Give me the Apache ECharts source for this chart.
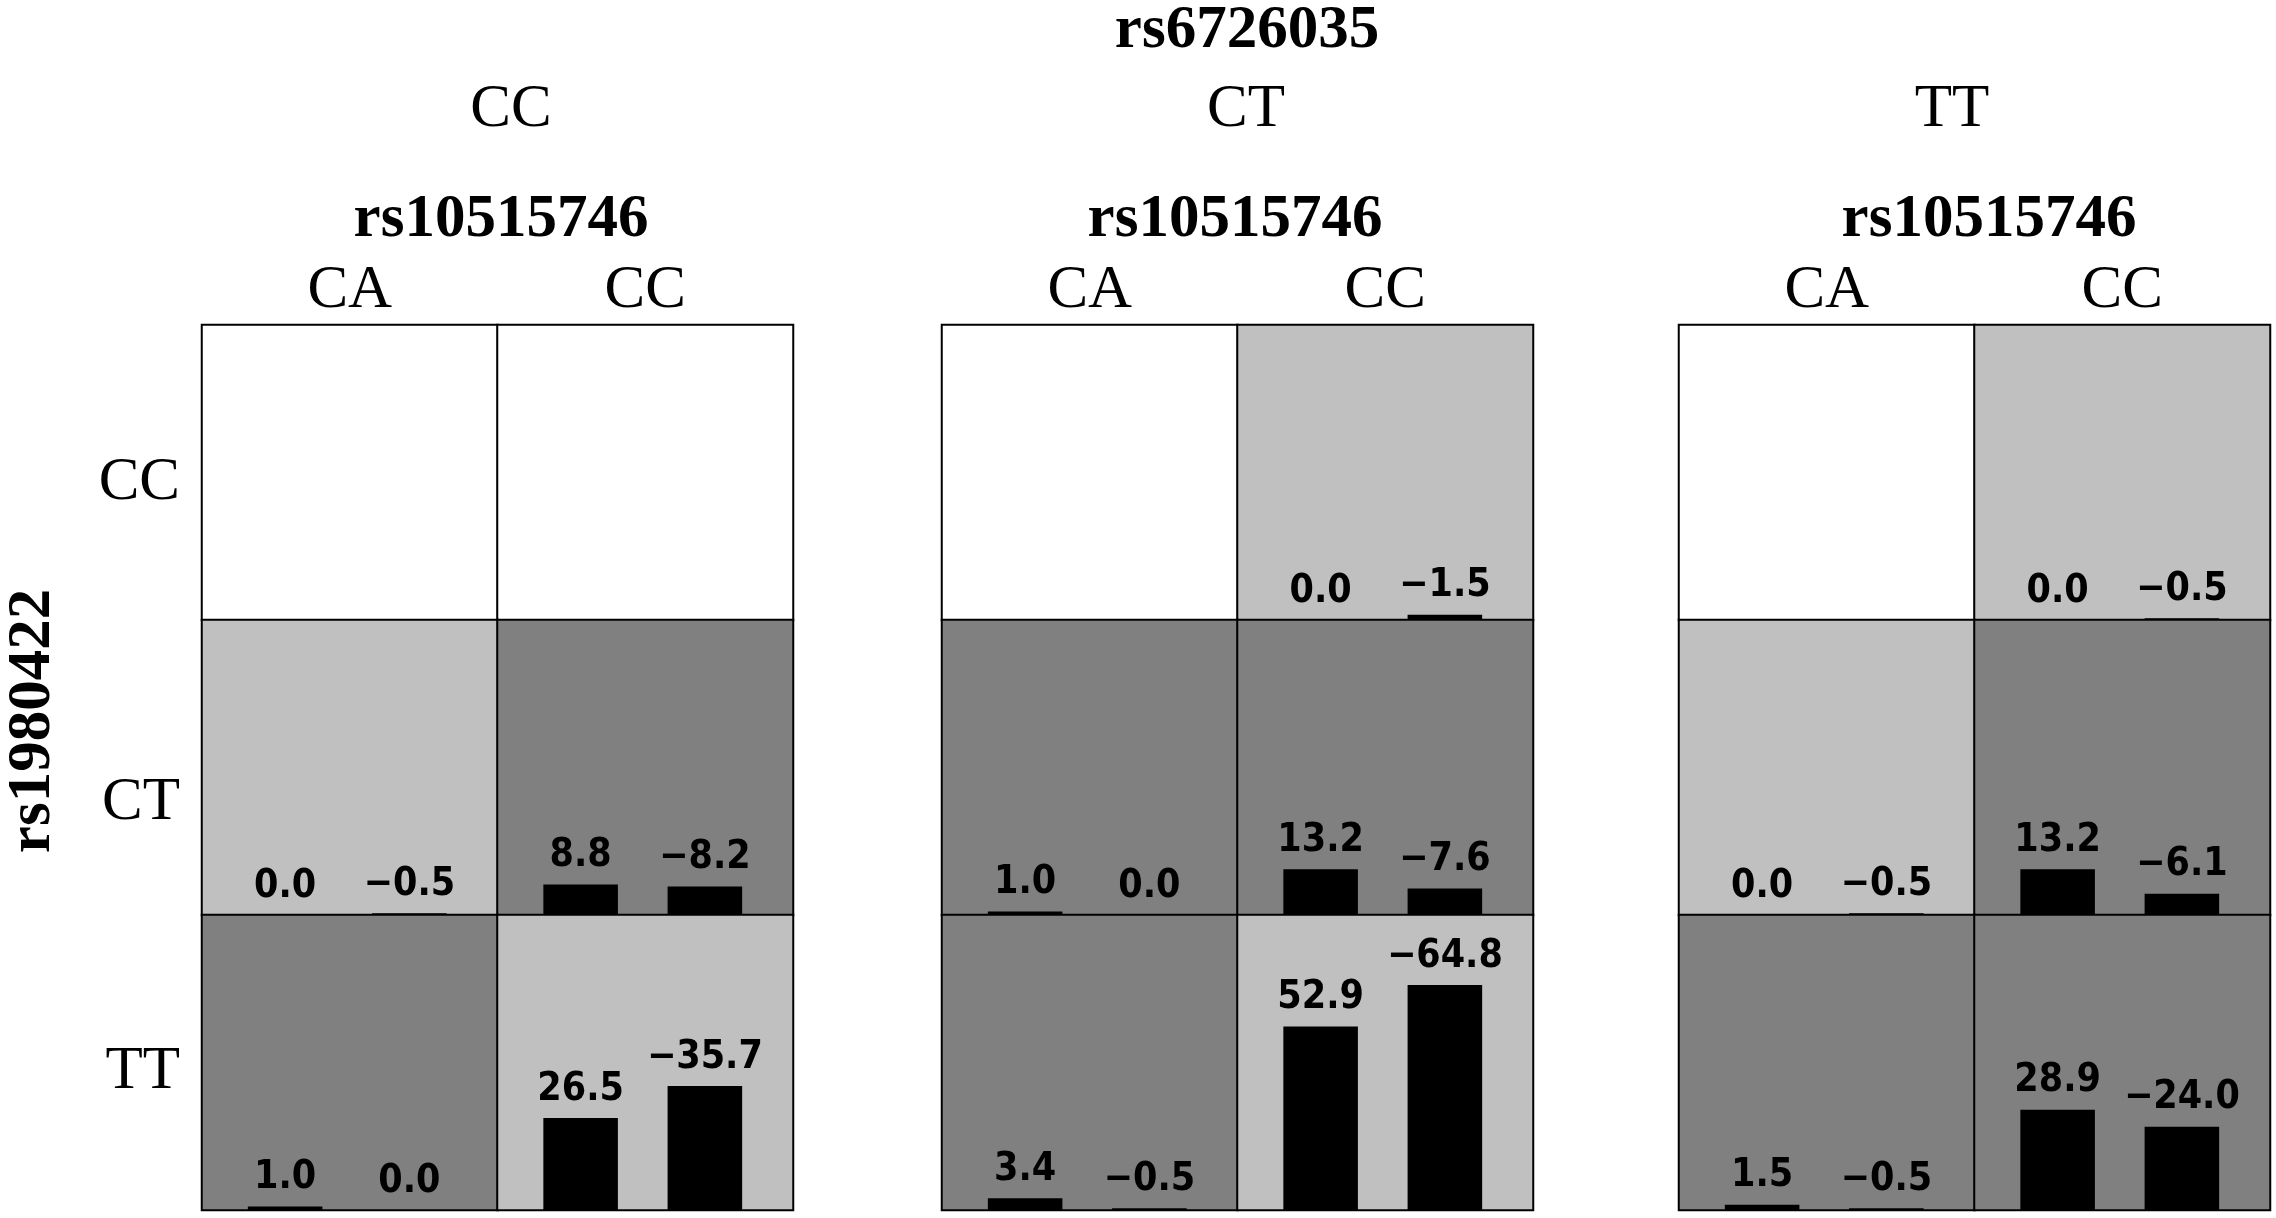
<!DOCTYPE html>
<html lang="en">

<head>
    <meta charset="UTF-8">
    <title>rs6726035 x rs10515746 x rs1980422</title>
    <script type="text/javascript" src="https://cdn.jsdelivr.net/npm/echarts@6/dist/echarts.min.js"></script>
    <style>
        html, body {
            margin: 0;
            padding: 0;
            background-color: #ffffff;
            overflow: hidden;
        }
    </style>
</head>

<body>
    <div style="width: 2276px; height: 1218px" id="container"></div>
</body>
<script>
    // genotype categories
    const panelGenotypes = ['CC', 'CT', 'TT'];   // rs6726035
    const colGenotypes = ['CA', 'CC'];           // rs10515746
    const rowGenotypes = ['CC', 'CT', 'TT'];     // rs1980422

    // shade level of each cell [row][col]: 0 none, 1 light, 2 dark
    const shadeCC = [[0, 0], [1, 2], [2, 1]];
    const shadeCT = [[0, 1], [2, 2], [2, 1]];
    const shadeTT = [[0, 1], [1, 2], [2, 2]];

    // two bar values in each cell [row][col], null = empty cell
    const barsCC = [[null, null], [[0.0, -0.5], [8.8, -8.2]], [[1.0, 0.0], [26.5, -35.7]]];
    const barsCT = [[null, [0.0, -1.5]], [[1.0, 0.0], [13.2, -7.6]], [[3.4, -0.5], [52.9, -64.8]]];
    const barsTT = [[null, [0.0, -0.5]], [[0.0, -0.5], [13.2, -6.1]], [[1.5, -0.5], [28.9, -24.0]]];

    const shades = [shadeCC, shadeCT, shadeTT];
    const bars = [barsCC, barsCT, barsTT];

    // layout
    const panelLeft = [202, 942, 1679];
    const panelW = 591;
    const panelTop = 325;
    const rowH = 295;
    const cellW = panelW / 2;
    const serif = '"Liberation Serif", "Times New Roman", serif';
    const sans = '"DejaVu Sans Condensed", "DejaVu Sans", sans-serif';

    let fmt = function (v) {
        return (v < 0 ? '\u2212' : '') + Math.abs(v).toFixed(1);
    };

    var dom = document.getElementById("container");
    var myChart = echarts.init(dom);

    let grid = [], xAxis = [], yAxis = [], series = [], heatIdx = [];

    // one grid per panel for the shaded cells
    panelGenotypes.forEach((g, p) => {
        grid.push({
            left: panelLeft[p], top: panelTop, width: panelW, height: rowH * 3,
            outerBoundsMode: 'none'
        });
        xAxis.push({
            type: 'category', gridIndex: p, position: 'top', data: colGenotypes,
            axisLine: { show: false }, axisTick: { show: false }, splitLine: { show: false },
            axisLabel: { fontFamily: serif, fontSize: 61, color: '#000', margin: 4 }
        });
        yAxis.push({
            type: 'category', gridIndex: p, inverse: true, data: rowGenotypes,
            axisLine: { show: false }, axisTick: { show: false }, axisLabel: { show: false },
            splitLine: { show: false }
        });
        let data = [];
        shades[p].forEach((r, ri) => r.forEach((s, ci) => data.push([ci, ri, s])));
        heatIdx.push(series.length);
        series.push({
            type: 'heatmap', xAxisIndex: p, yAxisIndex: p, data: data, z: 1,
            itemStyle: { borderColor: '#000', borderWidth: 2 },
            emphasis: { disabled: true }, silent: true
        });
    });

    // one small bar grid per filled cell
    let g = grid.length;
    bars.forEach((panel, p) => {
        panel.forEach((row, ri) => {
            row.forEach((pair, ci) => {
                if (!pair) return;
                grid.push({
                    left: panelLeft[p] + ci * cellW + 21,
                    top: panelTop + ri * rowH,
                    width: cellW - 47,
                    height: rowH,
                    outerBoundsMode: 'none'
                });
                xAxis.push({ type: 'category', gridIndex: g, data: ['a', 'b'], show: false });
                yAxis.push({ type: 'value', gridIndex: g, min: 0, max: 85, show: false });
                series.push({
                    type: 'bar', xAxisIndex: g, yAxisIndex: g, barWidth: '60%', z: 3,
                    data: pair.map(v => ({ value: Math.abs(v), raw: v })),
                    itemStyle: { color: '#000' },
                    silent: true,
                    label: {
                        show: true, position: 'top', distance: 9,
                        fontFamily: sans, fontWeight: 'bold', fontSize: 39, color: '#000',
                        formatter: params => fmt(params.data.raw)
                    }
                });
                g++;
            });
        });
    });

    // header / row texts
    const panelHeadX = [511, 1246, 1952];
    const subHeadX = [501, 1235, 1989];
    const rowLabelY = [483, 803, 1072];

    let graphic = [{
        type: 'text', x: 1247, y: 31,
        style: { text: 'rs6726035', fontFamily: serif, fontWeight: 'bold', fontSize: 61, fill: '#000', align: 'center', verticalAlign: 'middle' }
    }, {
        type: 'text', x: 33, y: 721, rotation: Math.PI / 2,
        style: { text: 'rs1980422', fontFamily: serif, fontWeight: 'bold', fontSize: 61, fill: '#000', align: 'center', verticalAlign: 'middle' }
    }];
    panelGenotypes.forEach((t, p) => {
        graphic.push({
            type: 'text', x: panelHeadX[p], y: 110,
            style: { text: t, fontFamily: serif, fontSize: 61, fill: '#000', align: 'center', verticalAlign: 'middle' }
        });
        graphic.push({
            type: 'text', x: subHeadX[p], y: 220,
            style: { text: 'rs10515746', fontFamily: serif, fontWeight: 'bold', fontSize: 61, fill: '#000', align: 'center', verticalAlign: 'middle' }
        });
    });
    rowGenotypes.forEach((t, r) => {
        graphic.push({
            type: 'text', x: 180, y: rowLabelY[r],
            style: { text: t, fontFamily: serif, fontSize: 61, fill: '#000', align: 'right', verticalAlign: 'middle' }
        });
    });

    var option = {
        backgroundColor: '#ffffff',
        animation: false,
        grid: grid,
        xAxis: xAxis,
        yAxis: yAxis,
        visualMap: {
            type: 'piecewise', show: false, seriesIndex: heatIdx, dimension: 2,
            pieces: [
                { value: 0, color: '#ffffff' },
                { value: 1, color: '#c0c0c0' },
                { value: 2, color: '#808080' }
            ]
        },
        graphic: graphic,
        series: series
    };
    if (option && typeof option === 'object') {
        myChart.setOption(option);
    }
</script>

</html>
